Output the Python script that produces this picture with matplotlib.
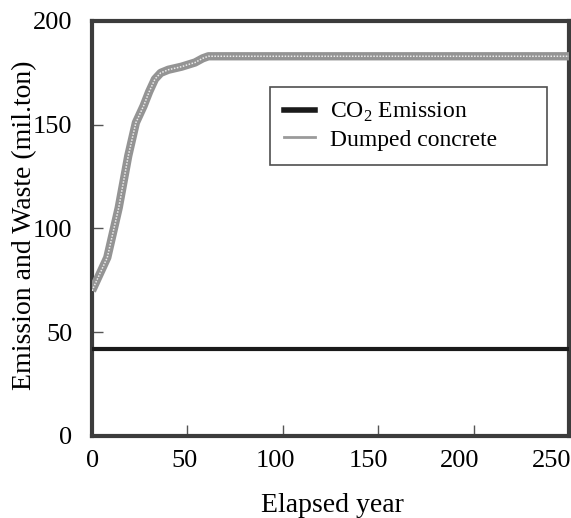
import numpy as np
import matplotlib
matplotlib.use("Agg")
import matplotlib.pyplot as plt
from matplotlib.lines import Line2D
from matplotlib.transforms import ScaledTranslation

plt.rcParams['font.family'] = ['Liberation Serif', 'DejaVu Serif']
plt.rcParams['mathtext.fontset'] = 'custom'
plt.rcParams['mathtext.rm'] = 'Liberation Serif'

# Données
annees_beton = [0, 2, 8, 14, 19, 23, 27, 30, 33, 36, 40, 47, 54, 58, 61, 250]
beton_deverse = [70, 74, 86, 110, 135, 151, 159, 166, 172, 175, 176.5, 178, 180, 182, 183, 183]
annees_co2 = [0, 250]
emission_co2 = [42, 42]

x_ticks = [0, 50, 100, 150, 200, 250]
y_ticks = [0, 50, 100, 150, 200]

fig = plt.figure(figsize=(5.71, 5.18), dpi=100)
ax = fig.add_axes([92/571, 1 - 436/518, 477/571, 415/518])

# bande grise "tramée" pour le béton
ax.plot(annees_beton, beton_deverse, color='#949494', lw=6, solid_capstyle='butt',
        solid_joinstyle='round', zorder=3)
ax.plot(annees_beton, beton_deverse, color='#ececec', lw=1.1, ls=(0, (1, 1)), zorder=4)
ax.plot(annees_co2, emission_co2, color='#1a1a1a', lw=3, zorder=5)

ax.set_xlim(0, 250)
ax.set_ylim(0, 200)
ax.set_xticks(x_ticks)
ax.set_yticks(y_ticks)
ax.tick_params(direction='in', length=8, width=1, color='#555555', labelsize=19)
ax.tick_params(axis='x', pad=10)
ax.tick_params(axis='y', pad=14)
for s in ax.spines.values():
    s.set_linewidth(3)
    s.set_color('#3c3c3c')

# décalage des étiquettes x comme sur l'original
decalages = [1, -3, -7, -10, -14, -17]
for lab, dx in zip(ax.get_xticklabels(), decalages):
    lab.set_transform(lab.get_transform() + ScaledTranslation(dx / 100, 0, fig.dpi_scale_trans))

fig.text(332/571, 1 - 505/518, "Elapsed year", ha='center', va='center', fontsize=20)
fig.text(25/571, 1 - 225/518, "Emission and Waste (mil.ton)", ha='center', va='center',
         rotation=90, fontsize=20)

poignees = [Line2D([0], [0], color='#1a1a1a', lw=4),
            Line2D([0], [0], color='#9a9a9a', lw=2)]
leg = ax.legend(poignees, ["CO$_{2}$ Emission", "Dumped concrete"],
                loc='upper left', bbox_to_anchor=(0.373, 0.65, 0.581, 0.191), mode='expand',
                borderaxespad=0, fontsize=17, frameon=True, fancybox=False,
                edgecolor='#222222', handlelength=1.3, handletextpad=0.65,
                borderpad=0.6, labelspacing=0.2)
leg.get_frame().set_linewidth(1.2)

fig.savefig("out.png", dpi=100)
